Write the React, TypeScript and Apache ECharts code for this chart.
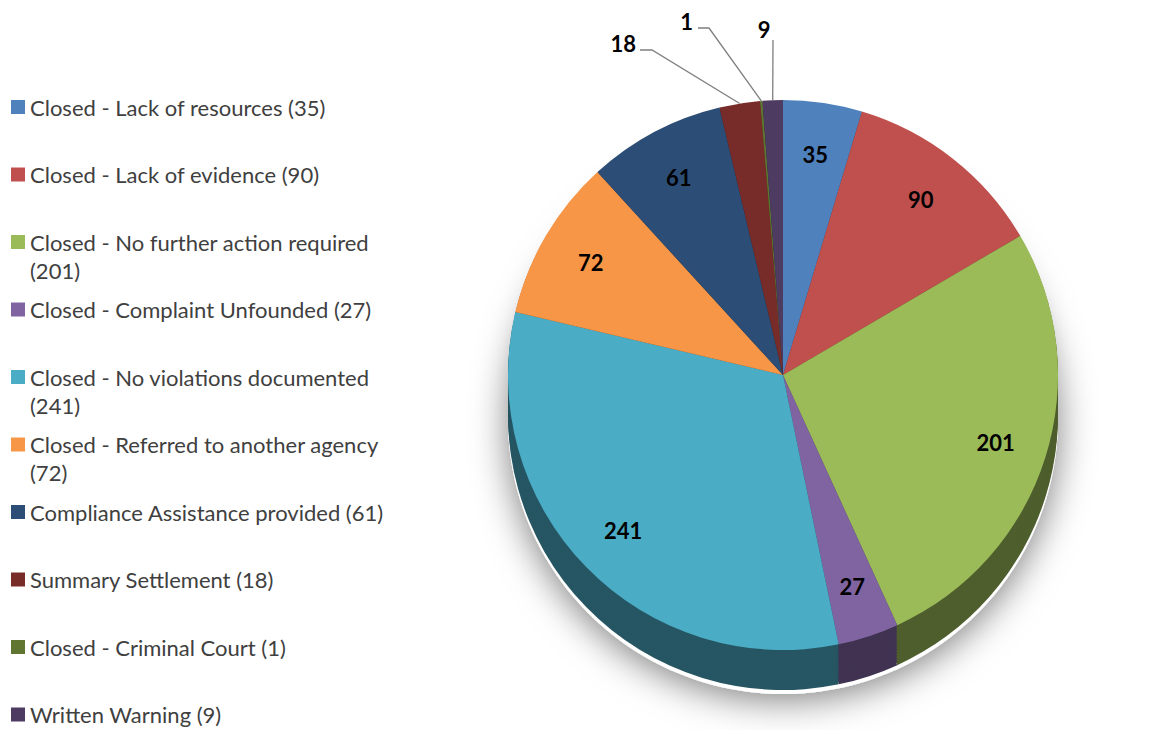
import React, { useEffect, useRef } from 'react';
import * as echarts from 'echarts';

const names = [
  'Closed - Lack of resources',
  'Closed - Lack of evidence',
  'Closed - No further action required',
  'Closed - Complaint Unfounded',
  'Closed - No violations documented',
  'Closed - Referred to another agency',
  'Compliance Assistance provided',
  'Summary Settlement',
  'Closed - Criminal Court',
  'Written Warning',
];
const values = [35, 90, 201, 27, 241, 72, 61, 18, 1, 9];
const colors = ['#4F81BD', '#C0504D', '#9BBB59', '#8064A2', '#4BACC6', '#F79646', '#2C4D75', '#772C2A', '#5F7530', '#4D3B62'];
const wrappedLegend = [false, false, true, false, true, true, false, false, false, false];
const outsideLabels = [false, false, false, false, false, false, false, true, true, true];

// placement of the three small outside labels: [labelX, labelY, align, elbowX, elbowY, endX]
const outsidePlacement: Record<number, any[]> = {
  7: [636, 43, 'right', 652, 50, 640],
  8: [693, 21, 'right', 709, 28, 698],
  9: [764, 29, 'center', 773, 40, 773],
};

const FONT = 'Lato';
const CX = 783;
const CY = 375;
const R = 275;
const DEPTH = 40;
const STEP = 3;

function darken(hex: string, f: number): string {
  const n = parseInt(hex.slice(1), 16);
  const r = Math.round(((n >> 16) & 255) * f);
  const g = Math.round(((n >> 8) & 255) * f);
  const b = Math.round((n & 255) * f);
  return `rgb(${r},${g},${b})`;
}

export default function App() {
  const ref = useRef<HTMLDivElement>(null);
  useEffect(() => {
    if (!ref.current) return;
    const chart = echarts.init(ref.current, undefined, { renderer: 'svg' });

    const L = 28;
    const legends = names.map((name, i) => {
      const c = 107 + i * 67.5;
      return {
        orient: 'vertical',
        left: 11,
        top: wrappedLegend[i] ? c - 42 : c - 14,
        padding: 0,
        icon: 'rect',
        itemWidth: 14,
        itemHeight: 14,
        itemGap: 0,
        data: [name],
        formatter: (n: string) => {
          const idx = names.indexOf(n);
          return wrappedLegend[idx] ? `\n${n}\n(${values[idx]})` : `${n} (${values[idx]})`;
        },
        textStyle: { fontFamily: FONT, fontSize: 22, color: '#404040', lineHeight: L },
      };
    });

    const series: any[] = [];
    series.push({
      type: 'pie',
      name: 'top',
      z: 10,
      center: [CX, CY],
      radius: [0, R],
      startAngle: 90,
      clockwise: true,
      silent: true,
      label: { show: false },
      labelLine: { show: false },
      itemStyle: { borderWidth: 0 },
      data: names.map((name, i) => ({
        name,
        value: values[i],
        itemStyle: { color: colors[i] },
      })),
    });
    series.push({
      type: 'pie',
      name: 'labels',
      z: 11,
      center: [CX, CY],
      radius: [R * 0.6, R],
      startAngle: 90,
      clockwise: true,
      silent: true,
      avoidLabelOverlap: false,
      itemStyle: { color: 'rgba(0,0,0,0)', borderWidth: 0 },
      label: {
        show: true,
        position: 'inside',
        formatter: '{c}',
        color: '#000',
        fontFamily: FONT,
        fontWeight: 'bold',
        fontSize: 22,
      },
      labelLine: { show: false },
      labelLayout: (p: any) => {
        const pl = outsidePlacement[p.dataIndex];
        if (!pl || !p.labelLinePoints) return {};
        const anchor = p.labelLinePoints[0];
        const pts = [anchor, [pl[3], pl[4]], [pl[5], pl[4]]];
        return {
          x: pl[0],
          y: pl[1],
          align: pl[2],
          verticalAlign: 'middle',
          labelLinePoints: pts,
        };
      },
      data: names.map((name, i) => ({
        name,
        value: values[i],
        itemStyle: { color: 'rgba(0,0,0,0)' },
        label: outsideLabels[i] ? { position: 'outside' } : undefined,
        labelLine: outsideLabels[i]
          ? { show: true, length: 20, length2: 10, lineStyle: { color: '#7f7f7f', width: 1.3 } }
          : undefined,
      })),
    });
    for (let d = DEPTH; d > 0; d -= STEP) {
      series.push({
        type: 'pie',
        z: 5,
        center: [CX, CY + d],
        radius: [0, R],
        startAngle: 90,
        clockwise: true,
        silent: true,
        label: { show: false },
        labelLine: { show: false },
        itemStyle: { borderWidth: 0 },
        data: names.map((name, i) => ({
          name,
          value: values[i],
          itemStyle: { color: darken(colors[i], 0.5) },
        })),
      });
    }
    series.push({
      type: 'pie',
      z: 1,
      center: [CX, CY + DEPTH + 4],
      radius: [0, R],
      silent: true,
      label: { show: false },
      labelLine: { show: false },
      itemStyle: {
        color: '#ffffff',
        shadowBlur: 36,
        shadowColor: 'rgba(0,0,0,0.5)',
        shadowOffsetY: 6,
      },
      data: [{ name: '__shadow', value: 1 }],
    });

    chart.setOption({
      animation: false,
      backgroundColor: '#ffffff',
      legend: legends,
      series,
    });
    return () => chart.dispose();
  }, []);
  return (
    <div
      ref={ref}
      style={{ position: 'fixed', left: 0, top: 0, width: 1158, height: 730 }}
    />
  );
}
